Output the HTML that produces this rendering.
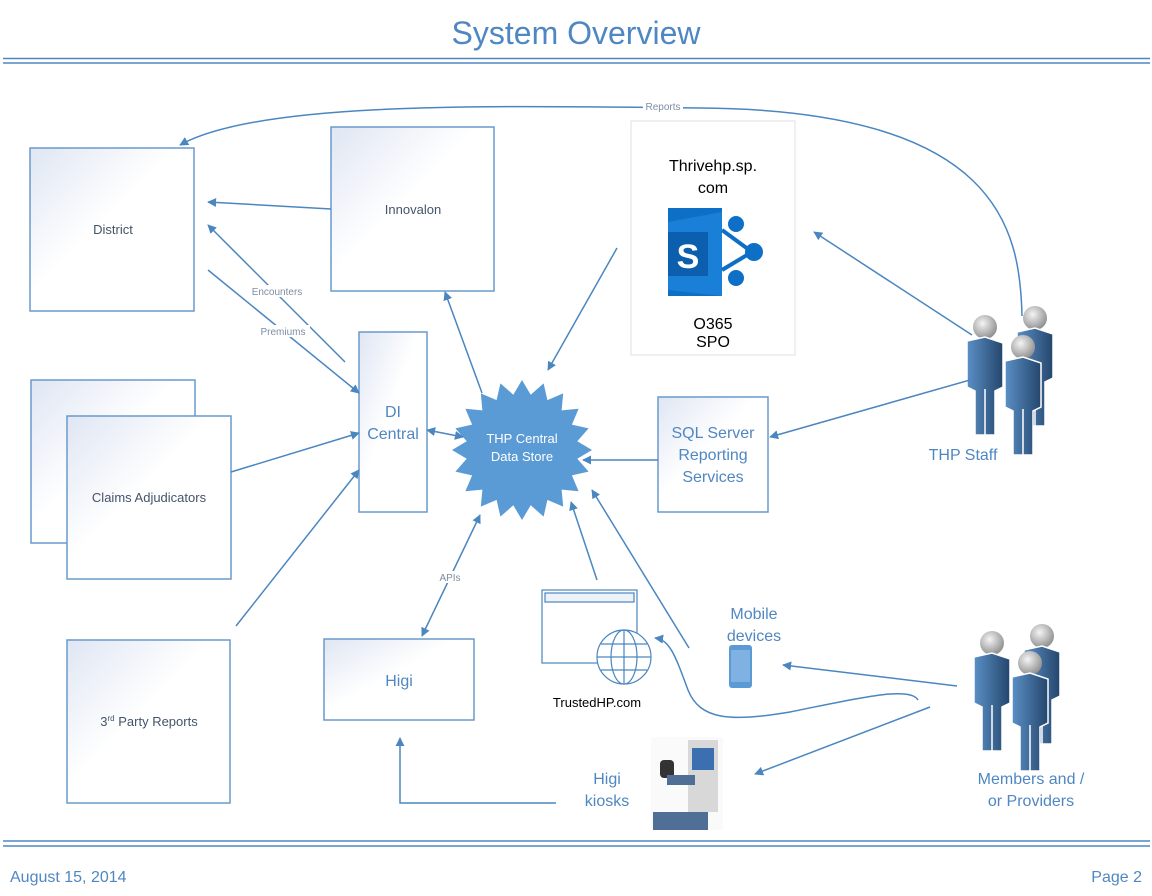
<!DOCTYPE html>
<html><head><meta charset="utf-8"><style>
html,body{margin:0;padding:0;background:#fff;}
svg{display:block;font-family:"Liberation Sans",Calibri,sans-serif;}
</style></head><body>
<svg width="1152" height="896" viewBox="0 0 1152 896" xmlns="http://www.w3.org/2000/svg">
<defs>
<linearGradient id="bx" x1="0" y1="0" x2="1" y2="1">
<stop offset="0" stop-color="#dfe6f3"/><stop offset="0.45" stop-color="#ffffff"/><stop offset="1" stop-color="#ffffff"/>
</linearGradient>
<linearGradient id="pb" x1="0" y1="0" x2="1" y2="0">
<stop offset="0" stop-color="#5b8fc6"/><stop offset="1" stop-color="#24466c"/>
</linearGradient>
<radialGradient id="hd" cx="0.4" cy="0.35" r="0.7">
<stop offset="0" stop-color="#f4f4f4"/><stop offset="1" stop-color="#8a8a8a"/>
</radialGradient>
<marker id="a" viewBox="0 0 10 10" refX="9" refY="5" markerWidth="9" markerHeight="9" orient="auto-start-reverse" markerUnits="userSpaceOnUse">
<path d="M0,0 L10,5 L0,10 z" fill="#4a86c0"/>
</marker>
<g id="person">
<circle cx="20" cy="12" r="12" fill="url(#hd)"/>
<path d="M2,26 L20,22 L38,28 L38,72 L30,76 L30,120 L10,120 L10,76 L2,72 z" fill="url(#pb)" stroke="#fff" stroke-width="1.5"/>
<line x1="20" y1="74" x2="20" y2="120" stroke="#fff" stroke-width="1.5"/>
</g>
</defs>

<!-- title -->
<text x="576" y="44" text-anchor="middle" font-size="32" fill="#4f87c2">System Overview</text>
<line x1="3" y1="58.5" x2="1150" y2="58.5" stroke="#4f87c2" stroke-width="1.5"/>
<line x1="3" y1="63" x2="1150" y2="63" stroke="#4f87c2" stroke-width="1.5"/>
<line x1="3" y1="841" x2="1150" y2="841" stroke="#4f87c2" stroke-width="1.5"/>
<line x1="3" y1="846" x2="1150" y2="846" stroke="#4f87c2" stroke-width="1.5"/>
<text x="10" y="882" font-size="16" fill="#4f87c2">August 15, 2014</text>
<text x="1142" y="882" text-anchor="end" font-size="16" fill="#4f87c2">Page 2</text>

<g stroke="#6a9acb" stroke-width="1.5" fill="url(#bx)">
<rect x="30" y="148" width="164" height="163"/>
<rect x="331" y="127" width="163" height="164"/>
<rect x="359" y="332" width="68" height="180"/>
<rect x="31" y="380" width="164" height="163"/>
<rect x="67" y="416" width="164" height="163"/>
<rect x="67" y="640" width="163" height="163"/>
<rect x="324" y="639" width="150" height="81"/>
<rect x="658" y="397" width="110" height="115"/>
</g>
<rect x="631" y="121" width="164" height="234" fill="#fff" stroke="#e0e0e0" stroke-width="1"/>

<g font-size="13" fill="#44546a" text-anchor="middle">
<text x="113" y="234">District</text>
<text x="413" y="214">Innovalon</text>
<text x="149" y="502">Claims Adjudicators</text>
<text x="149" y="726">3<tspan font-size="8" dy="-5">rd</tspan><tspan dy="5"> Party Reports</tspan></text>
</g>
<g font-size="16" fill="#4f87c2" text-anchor="middle">
<text x="393" y="417">DI</text>
<text x="393" y="439">Central</text>
<text x="399" y="686">Higi</text>
<text x="713" y="438">SQL Server</text>
<text x="713" y="460">Reporting</text>
<text x="713" y="482">Services</text>
<text x="963" y="460">THP Staff</text>
<text x="754" y="619">Mobile</text>
<text x="754" y="641">devices</text>
<text x="607" y="784">Higi</text>
<text x="607" y="806">kiosks</text>
<text x="1031" y="784">Members and /</text>
<text x="1031" y="806">or Providers</text>
</g>
<g font-size="16" fill="#000" text-anchor="middle">
<text x="713" y="171">Thrivehp.sp.</text>
<text x="713" y="193">com</text>
<text x="713" y="329">O365</text>
<text x="713" y="347">SPO</text>
</g>
<text x="597" y="707" font-size="13" fill="#000" text-anchor="middle">TrustedHP.com</text>

<!-- sharepoint icon -->
<g>
<rect x="668" y="208" width="54" height="88" fill="#0e6fc7"/>
<polygon points="668,222 722,212 722,296 668,290" fill="#1a7fd6"/>
<line x1="722" y1="230" x2="752" y2="252" stroke="#0e6fc7" stroke-width="4"/>
<line x1="722" y1="270" x2="752" y2="252" stroke="#0e6fc7" stroke-width="4"/>
<circle cx="736" cy="224" r="8" fill="#0e6fc7"/>
<circle cx="754" cy="252" r="9" fill="#0e6fc7"/>
<circle cx="736" cy="278" r="8" fill="#0e6fc7"/>
<rect x="668" y="232" width="40" height="44" fill="#0b5fae"/>
<text x="688" y="268" font-size="34" font-weight="bold" fill="#fff" text-anchor="middle">S</text>
</g>

<!-- star -->
<polygon fill="#5b9bd5" points="592,450 577.3,458.7 588.6,471.6 571.9,475.4 578.6,491.2 561.6,489.6 563.2,506.6 547.4,499.9 543.6,516.6 530.7,505.3 522,520 513.3,505.3 500.4,516.6 496.6,499.9 480.8,506.6 482.4,489.6 465.4,491.2 472.1,475.4 455.4,471.6 466.7,458.7 452,450 466.7,441.3 455.4,428.4 472.1,424.6 465.4,408.8 482.4,410.4 480.8,393.4 496.6,400.1 500.4,383.4 513.3,394.7 522,380 530.7,394.7 543.6,383.4 547.4,400.1 563.2,393.4 561.6,410.4 578.6,408.8 571.9,424.6 588.6,428.4 577.3,441.3"/>
<text x="522" y="443" font-size="13" fill="#fff" text-anchor="middle">THP Central</text>
<text x="522" y="461" font-size="13" fill="#fff" text-anchor="middle">Data Store</text>

<!-- web icon -->
<g stroke="#4a86c0" stroke-width="1.2" fill="none">
<rect x="542" y="590" width="95" height="73" fill="#fff"/>
<rect x="545" y="593" width="89" height="9" fill="#eef3fa"/>
<circle cx="624" cy="657" r="27" fill="#fff"/>
<ellipse cx="624" cy="657" rx="13" ry="27"/>
<line x1="624" y1="630" x2="624" y2="684"/>
<line x1="597" y1="657" x2="651" y2="657"/>
<line x1="601" y1="644" x2="647" y2="644"/>
<line x1="601" y1="670" x2="647" y2="670"/>
</g>
<!-- phone -->
<rect x="729" y="645" width="23" height="43" rx="3" fill="#5b9bd5"/>
<rect x="731" y="650" width="19" height="32" fill="#7fb2e3"/>

<!-- kiosk -->
<g>
<rect x="651" y="737" width="72" height="93" fill="#fafafa"/>
<rect x="688" y="740" width="30" height="72" fill="#d8d8d8"/>
<rect x="692" y="748" width="22" height="22" fill="#3b6fb0"/>
<rect x="660" y="760" width="14" height="18" rx="4" fill="#333"/>
<rect x="667" y="775" width="28" height="10" fill="#4f6f96"/>
<rect x="653" y="812" width="55" height="18" fill="#4f6f96"/>
</g>

<!-- persons -->
<use href="#person" x="1015" y="306"/>
<use href="#person" x="965" y="315"/>
<use href="#person" x="1003" y="335"/>
<use href="#person" x="1022" y="624"/>
<use href="#person" x="972" y="631"/>
<use href="#person" x="1010" y="651"/>

<!-- connectors -->
<g stroke="#4a86c0" stroke-width="1.5" fill="none">
<path d="M1022,316 C1020,230 1000,110 700,108 C500,106 260,100 180,145" marker-end="url(#a)"/>
<line x1="331" y1="209" x2="208" y2="202" marker-end="url(#a)"/>
<line x1="345" y1="362" x2="208" y2="225" marker-end="url(#a)"/>
<line x1="208" y1="270" x2="359" y2="393" marker-end="url(#a)"/>
<line x1="231" y1="472" x2="359" y2="433" marker-end="url(#a)"/>
<line x1="236" y1="626" x2="359" y2="470" marker-end="url(#a)"/>
<line x1="427" y1="430" x2="463" y2="437" marker-start="url(#a)" marker-end="url(#a)"/>
<line x1="482" y1="393" x2="445" y2="292" marker-end="url(#a)"/>
<line x1="617" y1="248" x2="548" y2="370" marker-end="url(#a)"/>
<line x1="658" y1="460" x2="583" y2="460" marker-end="url(#a)"/>
<line x1="972" y1="335" x2="814" y2="232" marker-end="url(#a)"/>
<line x1="970" y1="380" x2="770" y2="437" marker-end="url(#a)"/>
<line x1="422" y1="636" x2="480" y2="515" marker-start="url(#a)" marker-end="url(#a)"/>
<line x1="597" y1="580" x2="571" y2="502" marker-end="url(#a)"/>
<line x1="689" y1="648" x2="592" y2="490" marker-end="url(#a)"/>
<path d="M918,700 C910,685 850,700 790,712 C730,722 700,720 688,690 C675,655 670,640 655,638" marker-end="url(#a)"/>
<line x1="957" y1="686" x2="783" y2="665" marker-end="url(#a)"/>
<line x1="930" y1="707" x2="755" y2="774" marker-end="url(#a)"/>
<polyline points="556,803 400,803 400,738" marker-end="url(#a)"/>
</g>
<g font-size="10" fill="#7f8ea3" text-anchor="middle">
<rect x="643" y="100" width="40" height="12" fill="#fff"/>
<text x="663" y="110">Reports</text>
<rect x="246" y="285" width="62" height="12" fill="#fff"/>
<text x="277" y="295">Encounters</text>
<rect x="256" y="325" width="54" height="12" fill="#fff"/>
<text x="283" y="335">Premiums</text>
<rect x="437" y="571" width="26" height="12" fill="#fff"/>
<text x="450" y="581">APIs</text>
</g>
</svg>
</body></html>
